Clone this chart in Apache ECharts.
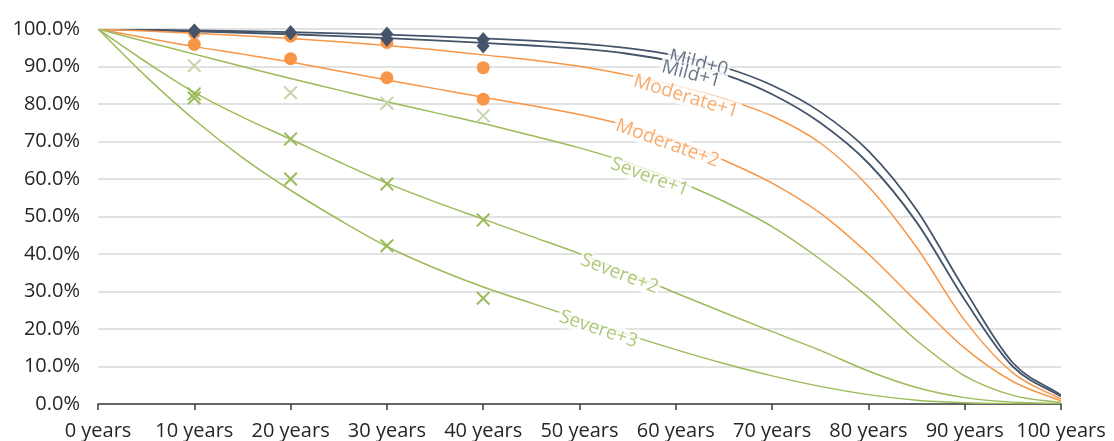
<!DOCTYPE html>
<html>
<head>
<meta charset="utf-8">
<script src="https://cdn.jsdelivr.net/npm/echarts@6/dist/echarts.min.js"></script>
<style>
  html, body { margin: 0; padding: 0; background: #fff; }
  #chart { width: 1114px; height: 441px; }
</style>
</head>
<body>
<div id="chart"></div>
<script>
// Modelled survival curves, sampled every 5 years (percent surviving)
const years = [0, 5, 10, 15, 20, 25, 30, 35, 40, 45, 50, 55, 60, 65, 70, 75, 80, 85, 90, 95, 100];
const mild0     = [100, 99.8, 99.6, 99.4, 99.15, 98.85, 98.5, 98.05, 97.5, 96.9, 96.1, 94.9, 92.9, 89.8, 85.0, 77.9, 67.5, 51.8, 30.5, 11.0, 2.4];
const mild1     = [100, 99.7, 99.35, 99.0, 98.6, 98.1, 97.55, 96.95, 96.3, 95.6, 94.75, 93.4, 91.2, 87.9, 82.6, 75.0, 64.2, 48.5, 27.8, 10.0, 2.0];
const moderate1 = [100, 99.45, 98.85, 98.2, 97.45, 96.6, 95.6, 94.45, 93.1, 91.75, 90.05, 87.7, 84.9, 81.4, 76.8, 69.6, 58.0, 41.8, 22.3, 8.3, 1.3];
const moderate2 = [100, 97.6, 95.3, 93.3, 91.2, 88.8, 86.4, 84.1, 81.8, 79.6, 77.2, 74.2, 70.2, 65.0, 58.9, 50.9, 40.0, 27.3, 14.9, 6.0, 0.8];
const severe1   = [100, 96.6, 93.3, 90.0, 86.8, 83.7, 80.6, 77.7, 74.8, 71.6, 68.3, 64.4, 59.6, 54.0, 47.3, 38.6, 28.5, 17.0, 7.5, 2.3, 0.3];
const severe2   = [100, 91.2, 83.1, 76.5, 70.6, 64.6, 58.9, 53.9, 49.3, 44.7, 40.1, 35.0, 29.6, 24.4, 19.3, 14.3, 8.8, 4.4, 1.7, 0.5, 0.1];
const severe3   = [100, 87.3, 75.8, 65.7, 57.0, 49.2, 42.0, 36.2, 31.2, 26.9, 22.7, 18.5, 14.5, 10.8, 7.5, 4.7, 2.5, 1.0, 0.35, 0.1, 0.0];

// Observed survival at follow-up points
const obsYears      = [10, 20, 30, 40];
const obsMild0      = [99.5, 99.0, 98.7, 97.2];
const obsMild1      = [99.4, 99.0, 97.3, 95.5];
const obsModerate1  = [99.0, 98.1, 96.4, 89.7];
const obsModerate2  = [95.9, 92.1, 87.0, 81.3];
const obsSevere1    = [90.2, 83.0, 80.2, 76.9];
const obsSevere2    = [82.7, 70.7, 58.7, 49.1];
const obsSevere3    = [81.6, 60.0, 42.2, 28.2];

const yTicks = [0, 10, 20, 30, 40, 50, 60, 70, 80, 90, 100];

const NAVY = '#44546A';
const ORANGE = '#F79646';
const GREEN = '#9BBB59';
const PALE_GREEN = '#C6D5AC';
const FONT = '"Open Sans", "Noto Sans", sans-serif';

// Curves with the year at which each inline name sits, its tilt and nudge
const curves = [
  { name: 'Mild+0',     vals: mild0,     color: NAVY,   width: 1.8, at: 62.4, rotate: -14, offset: [0, 2] },
  { name: 'Mild+1',     vals: mild1,     color: NAVY,   width: 1.8, at: 61.8, rotate: -15, offset: [0, 8] },
  { name: 'Moderate+1', vals: moderate1, color: ORANGE, width: 1.5, at: 61.3, rotate: -17, offset: [0, 8] },
  { name: 'Moderate+2', vals: moderate2, color: ORANGE, width: 1.5, at: 59.3, rotate: -20, offset: [0, 5] },
  { name: 'Severe+1',   vals: severe1,   color: GREEN,  width: 1.5, at: 57.5, rotate: -20, offset: [0, 6] },
  { name: 'Severe+2',   vals: severe2,   color: GREEN,  width: 1.5, at: 54.3, rotate: -21, offset: [0, 4] },
  { name: 'Severe+3',   vals: severe3,   color: GREEN,  width: 1.5, at: 52.1, rotate: -19, offset: [0, 4] }
];

function valueAt(vals, t) {
  const i = Math.min(Math.floor(t / 5), vals.length - 2);
  const f = (t - years[i]) / (years[i + 1] - years[i]);
  return vals[i] + (vals[i + 1] - vals[i]) * f;
}

const pairs = (xs, ys) => xs.map((x, i) => [x, ys[i]]);

// Monotone cubic (Fritsch–Carlson) path through pixel points with increasing x
function monotonePath(pts) {
  const n = pts.length;
  const d = [], m = new Array(n);
  for (let k = 0; k < n - 1; k++) {
    d.push((pts[k + 1][1] - pts[k][1]) / (pts[k + 1][0] - pts[k][0]));
  }
  m[0] = d[0];
  m[n - 1] = d[n - 2];
  for (let k = 1; k < n - 1; k++) {
    m[k] = d[k - 1] * d[k] <= 0 ? 0 : (d[k - 1] + d[k]) / 2;
  }
  for (let k = 0; k < n - 1; k++) {
    if (d[k] === 0) { m[k] = 0; m[k + 1] = 0; continue; }
    const a = m[k] / d[k], b = m[k + 1] / d[k];
    const s = a * a + b * b;
    if (s > 9) {
      const t = 3 / Math.sqrt(s);
      m[k] = t * a * d[k];
      m[k + 1] = t * b * d[k];
    }
  }
  let path = 'M' + pts[0][0] + ',' + pts[0][1];
  for (let k = 0; k < n - 1; k++) {
    const h = (pts[k + 1][0] - pts[k][0]) / 3;
    path += 'C' + (pts[k][0] + h) + ',' + (pts[k][1] + m[k] * h) + ' ' +
            (pts[k + 1][0] - h) + ',' + (pts[k + 1][1] - m[k + 1] * h) + ' ' +
            pts[k + 1][0] + ',' + pts[k + 1][1];
  }
  return path;
}

const CROSS = 'path://M1,0L5,4L9,0L10,1L6,5L10,9L9,10L5,6L1,10L0,9L4,5L0,1Z';

const series = [];

curves.forEach(c => {
  const data = pairs(years, c.vals);
  series.push({
    name: c.name,
    type: 'custom',
    coordinateSystem: 'cartesian2d',
    data: data,
    encode: { x: 0, y: 1 },
    z: 2,
    silent: true,
    clip: true,
    renderItem: (params, api) => {
      if (params.dataIndex !== 0) return null;
      const pts = data.map(p => api.coord(p));
      return {
        type: 'path',
        shape: { pathData: monotonePath(pts) },
        style: { stroke: c.color, lineWidth: c.width, fill: null }
      };
    }
  });
});

const markers = [
  { data: obsSevere1,   symbol: CROSS,     size: 14,       color: PALE_GREEN },
  { data: obsSevere2,   symbol: CROSS,     size: 14,       color: GREEN },
  { data: obsSevere3,   symbol: CROSS,     size: 14,       color: GREEN },
  { data: obsModerate1, symbol: 'circle',  size: 13,       color: ORANGE },
  { data: obsModerate2, symbol: 'circle',  size: 13,       color: ORANGE },
  { data: obsMild0,     symbol: 'diamond', size: [13, 15], color: NAVY },
  { data: obsMild1,     symbol: 'diamond', size: [13, 15], color: NAVY }
];

markers.forEach((m, k) => {
  series.push({
    type: 'scatter',
    data: pairs(obsYears, m.data),
    symbol: m.symbol,
    symbolSize: m.size,
    itemStyle: { color: m.color, opacity: 1 },
    z: 3 + k,
    silent: true
  });
});

// Inline curve names, set on the curve itself
curves.forEach(c => {
  series.push({
    type: 'scatter',
    data: [[c.at, valueAt(c.vals, c.at)]],
    symbolSize: 0,
    z: 20,
    silent: true,
    label: {
      show: true,
      position: 'inside',
      formatter: c.name,
      rotate: c.rotate,
      offset: c.offset,
      color: c.color,
      fontFamily: FONT,
      fontSize: 19,
      backgroundColor: '#fff',
      padding: [0, 2]
    }
  });
});

const chart = echarts.init(document.getElementById('chart'), null, { renderer: 'canvas' });
chart.setOption({
  animation: false,
  backgroundColor: '#fff',
  grid: { left: 98, right: 53, top: 29, bottom: 37 },
  xAxis: {
    type: 'value',
    min: 0,
    max: 100,
    interval: 10,
    axisLine: { show: true, lineStyle: { color: '#3b3b3b', width: 1.5 } },
    axisTick: { show: true, length: 6, lineStyle: { color: '#3b3b3b', width: 1.5 } },
    splitLine: { show: false },
    axisLabel: {
      color: '#262626',
      fontFamily: FONT,
      fontSize: 20,
      margin: 17,
      formatter: v => v + ' years'
    }
  },
  yAxis: {
    type: 'value',
    min: yTicks[0],
    max: yTicks[yTicks.length - 1],
    interval: 10,
    axisLine: { show: false },
    axisTick: { show: false },
    splitLine: { show: true, lineStyle: { color: '#d9d9d9', width: 1.5 } },
    axisLabel: {
      color: '#262626',
      fontFamily: FONT,
      fontSize: 20,
      margin: 18,
      padding: [4, 0, 0, 0],
      formatter: v => v.toFixed(1) + '%'
    }
  },
  series: series
});
</script>
</body>
</html>
